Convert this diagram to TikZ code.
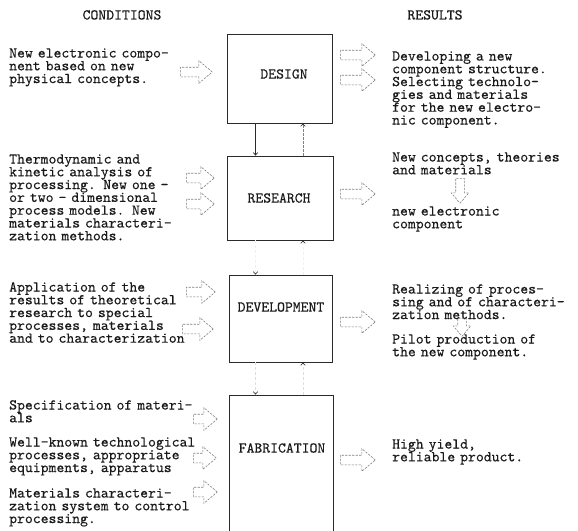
\documentclass[tikz,border=0pt]{standalone}
\usepackage{fontspec}
\usetikzlibrary{shapes.arrows,arrows.meta}
\newfontfamily\twfont{lmmono10-regular}[Extension=.otf, FakeBold=0.3]
\definecolor{inkc}{HTML}{1A1A1A}
\definecolor{boxc}{HTML}{2A2A2A}
\definecolor{arrc}{HTML}{808080}
\newcommand\tfont{\twfont\fontsize{15pt}{12.8pt}\selectfont\lineskiplimit=-50pt\lineskip=0pt\relax}
\tikzset{
  box/.style={rectangle, draw=boxc, line width=0.8pt, inner sep=0pt},
  lbl/.style={inner sep=0pt, font=\tfont, text=inkc},
  txt/.style={anchor=base west, inner sep=0pt, text width=205pt, align=left, font=\tfont, text=inkc},
  head/.style={anchor=base, inner sep=0pt, font=\tfont, text=inkc},
  barrow/.style={single arrow, draw=arrc, dash pattern=on 2.2pt off 1.3pt, line width=0.6pt,
     inner xsep=0pt, inner ysep=4.5pt, single arrow head extend=6.5pt, single arrow tip angle=80, anchor=tail},
  sarrow/.style={barrow, inner ysep=4pt, single arrow head extend=4.5pt},
  tipv/.style={-{Straight Barb[length=2.5pt,width=4.5pt,color=boxc]}},
  solidc/.style={tipv, draw=boxc, line width=0.7pt},
  dashc/.style={tipv, draw=arrc, line width=0.6pt, dash pattern=on 2.5pt off 1.5pt},
  faintc/.style={tipv, draw=gray!25, line width=0.6pt, dash pattern=on 2.5pt off 2.5pt},
}
\begin{document}
\begin{tikzpicture}[x=1pt,y=-1pt]
\useasboundingbox (0,0) rectangle (578,530);
\fill[white] (0,0) rectangle (578,530);
\clip (0,0) rectangle (578,530);

% column heads
\node[head] (cond) at (122,19.5) {CONDITIONS};
\node[head] (res) at (435,19.5) {RESULTS};

% boxes
\node[box, minimum width=105pt, minimum height=89pt] (design) at (279.5,78.5) {};
\node[box, minimum width=106pt, minimum height=84pt] (research) at (280,198) {};
\node[box, minimum width=103pt, minimum height=87pt] (develop) at (280.5,318.5) {};
\node[box, minimum width=104pt, minimum height=145pt] (fab) at (281,467.5) {};

\node[lbl] (designlbl) at (284,74) {DESIGN};
\node[lbl] (researchlbl) at (279,198) {RESEARCH};
\node[lbl] (developlbl) at (281,307) {DEVELOPMENT};
\node[lbl] (fablbl) at (282,448) {FABRICATION};

% vertical connectors
\coordinate (cl) at (255.5,0);
\coordinate (cr) at (303,0);
\draw[solidc] (design.south -| cl) -- (research.north -| cl);
\draw[dashc] (research.north -| cr) -- (design.south -| cr);
\draw[faintc, draw=gray!12] (research.south -| cl) -- (develop.north -| cl);
\draw[faintc, draw=gray!12] (develop.north -| cr) -- (research.south -| cr);
\draw[faintc] (develop.south -| cl) -- (fab.north -| cl);
\draw[faintc] (fab.north -| cr) -- (develop.south -| cr);

% left texts
\node[txt] (t1) at (9,57.5) {New electronic compo-\\nent based on new\\physical concepts.};
\node[txt] (t2) at (9,163.5) {Thermodynamic and\\kinetic analysis of\\processing. New one -\\or two - dimensional\\process models. New\\materials characteri-\\zation methods.};
\node[txt] (t3) at (9,291.5) {Application of the\\results of theoretical\\research to special\\processes, materials\\and to characterization};
\node[txt] (t4) at (9,409.5) {Specification of materi-\\als};
\node[txt] (t5) at (9,446.5) {Well-known technological\\processes, appropriate\\equipments, apparatus};
\node[txt] (t6) at (9,497.5) {Materials characteri-\\zation system to control\\processing.};

% right texts
\node[txt] (r1) at (392,60.5) {Developing a new\\component structure.\\Selecting technolo-\\gies and materials\\for the new electro-\\nic component.};
\node[txt] (r2) at (392,161.5) {New concepts, theories\\and materials};
\node[txt] (r3) at (392,215.5) {new electronic\\component};
\node[txt] (r4) at (392,293.5) {Realizing of proces-\\sing and of characteri-\\zation methods.};
\node[txt] (r5) at (392,343.5) {Pilot production of\\the new component.};
\node[txt] (r6) at (392,448.5) {High yield,\\reliable product.};

% block arrows, left
\node[barrow, minimum height=32pt] (a1) at (180,72) {};
\node[barrow, minimum height=28pt] (a2) at (186,178) {};
\node[barrow, minimum height=28pt] (a3) at (186,204) {};
\node[barrow, minimum height=29pt] (a4) at (186,292) {};
\node[barrow, minimum height=31pt] (a5) at (182,329) {};
\node[barrow, minimum height=24pt] (a6) at (193,419) {};
\node[barrow, minimum height=23pt] (a7) at (193,458) {};
\node[barrow, minimum height=24pt] (a8) at (193,492) {};

% block arrows, right
\node[barrow, minimum height=35pt] (b1) at (340,55) {};
\node[barrow, minimum height=35pt] (b2) at (340,80) {};
\node[barrow, minimum height=35pt] (b3) at (340,194) {};
\node[barrow, minimum height=35pt] (b4) at (340,322) {};
\node[barrow, minimum height=35pt] (b5) at (340,460) {};

% small down arrows
\node[sarrow, rotate=-90, minimum height=25pt] (c1) at (460,178) {};
\node[sarrow, rotate=-90, minimum height=18pt] (c2) at (462,318) {};
\end{tikzpicture}
\end{document}
